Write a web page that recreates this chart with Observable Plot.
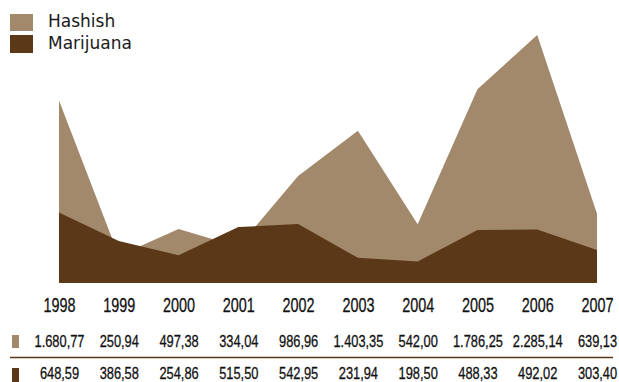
<!DOCTYPE html>
<html>
<head>
<meta charset="utf-8">
<script src="https://cdn.jsdelivr.net/npm/d3@7"></script>
<script src="https://cdn.jsdelivr.net/npm/@observablehq/plot@0.6"></script>
<style>
  html, body { margin: 0; padding: 0; background: #fff; }
  #wrap { position: relative; width: 619px; height: 382px; overflow: hidden; }
  .sw { position: absolute; }
  .lg { position: absolute; font-family: "DejaVu Sans", Verdana, sans-serif; font-size: 17px; line-height: 17px; color: #1a1a1a; white-space: nowrap; }
</style>
</head>
<body>
<div id="wrap"></div>
<script>
const years = [1998, 1999, 2000, 2001, 2002, 2003, 2004, 2005, 2006, 2007];
const hashish = [1680.77, 250.94, 497.38, 334.04, 986.96, 1403.35, 542.00, 1786.25, 2285.14, 639.13];
const marijuana = [648.59, 386.58, 254.86, 515.50, 542.95, 231.94, 198.50, 488.33, 492.02, 303.40];
const seriesNames = ["Hashish", "Marijuana"];
const colors = ["#a3896b", "#5b3818"];

const rows = years.map((y, i) => ({year: y, hashish: hashish[i], marijuana: marijuana[i]}));
const fmt = d3.formatLocale({decimal: ",", thousands: ".", grouping: [3], currency: ["", ""]}).format(",.2f");
const numFont = "'Liberation Sans', Arial, sans-serif";

const chart = Plot.plot({
  width: 619,
  height: 382,
  marginTop: 35,
  marginBottom: 99,
  marginLeft: 59,
  marginRight: 22,
  style: {overflow: "visible"},
  x: {type: "linear", domain: [years[0], years[years.length - 1]], axis: null},
  y: {domain: [0, d3.max(hashish)], axis: null},
  marks: [
    Plot.areaY(rows, {x: "year", y: "hashish", fill: colors[0]}),
    Plot.areaY(rows, {x: "year", y: "marijuana", fill: colors[1]}),
    Plot.text(rows, {x: "year", y: 0, dy: 22, text: d => String(d.year), fontSize: 20, fontFamily: numFont, fill: "#111", stroke: "#111", strokeWidth: 0.3}),
    Plot.text(rows, {x: "year", y: 0, dy: 58, text: d => fmt(d.hashish), fontSize: 17, fontFamily: numFont, fill: "#111", stroke: "#111", strokeWidth: 0.3}),
    Plot.text(rows, {x: "year", y: 0, dy: 90.5, text: d => fmt(d.marijuana), fontSize: 17, fontFamily: numFont, fill: "#111", stroke: "#111", strokeWidth: 0.3}),
    Plot.ruleY([0], {x1: years[0], x2: years[years.length - 1], dy: 74, insetLeft: -49, insetRight: -16, stroke: "#5b3818", strokeWidth: 1.3})
  ]
});

const wrap = document.getElementById("wrap");
wrap.appendChild(chart);

// condense the table text (reference uses a narrow face)
const squeeze = [0.72, 0.755, 0.755];
chart.querySelectorAll('g[aria-label="text"]').forEach((g, gi) => {
  const k = squeeze[gi] || 0.75;
  g.querySelectorAll("text").forEach(t => {
    const tr = t.getAttribute("transform") || "";
    t.setAttribute("transform", tr + ` scale(${k},1)`);
  });
});

function box(x, y, w, h, c) {
  const d = document.createElement("div");
  d.className = "sw";
  Object.assign(d.style, {left: x + "px", top: y + "px", width: w + "px", height: h + "px", background: c});
  wrap.appendChild(d);
}
function label(x, y, t) {
  const d = document.createElement("div");
  d.className = "lg";
  d.textContent = t;
  Object.assign(d.style, {left: x + "px", top: y + "px"});
  wrap.appendChild(d);
}
// legend
box(10, 14, 23, 17, colors[0]);
box(10, 35, 23, 18, colors[1]);
label(48, 13, seriesNames[0]);
label(48, 35, seriesNames[1]);
// table row markers
box(12, 335, 7, 13, colors[0]);
box(12, 368, 7, 14, colors[1]);
</script>
</body>
</html>
